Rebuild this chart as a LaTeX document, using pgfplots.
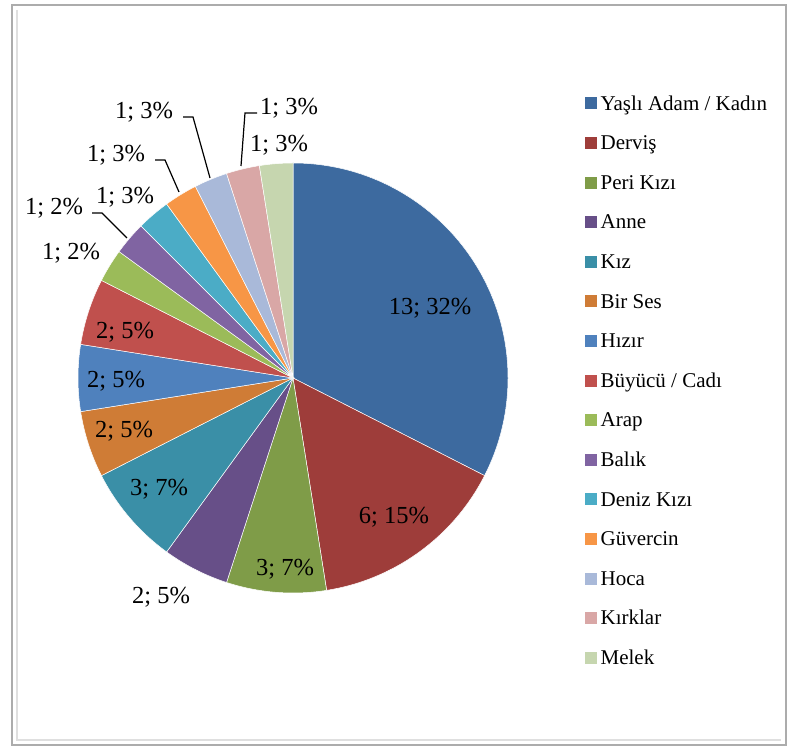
\documentclass[border=0pt]{standalone}
\usepackage{pgfplots}
\pgfplotsset{compat=1.18}
\usepackage{pgfplotstable}
\usepackage{fontspec}
\setmainfont{Liberation Serif}

\definecolor{c1}{HTML}{3D6A9F}
\definecolor{c2}{HTML}{9E3D3A}
\definecolor{c3}{HTML}{7F9C48}
\definecolor{c4}{HTML}{674F88}
\definecolor{c5}{HTML}{3A8FA7}
\definecolor{c6}{HTML}{CF7C36}
\definecolor{c7}{HTML}{4F81BD}
\definecolor{c8}{HTML}{C0504D}
\definecolor{c9}{HTML}{9BBB59}
\definecolor{c10}{HTML}{8064A2}
\definecolor{c11}{HTML}{4BACC6}
\definecolor{c12}{HTML}{F79646}
\definecolor{c13}{HTML}{A9B9D9}
\definecolor{c14}{HTML}{D9A7A6}
\definecolor{c15}{HTML}{C6D6AF}

\newcommand\lbl{\fontsize{24.5}{26}\selectfont}
\newcommand\lgd{\fontsize{21}{22}\selectfont}

% value, shown percent, colour, label position (axis units = pt)
\pgfplotstableread{
value pct color lx ly
13 32 c1 430 441
6 15 c2 394 232
3 7 c3 285 180
2 5 c4 161 152
3 7 c5 159 260
2 5 c6 124 318
2 5 c7 116 368
2 5 c8 125 417
1 2 c9 71 496
1 2 c10 54 541
1 3 c11 125 552
1 3 c12 116 594
1 3 c13 144 637
1 3 c14 289 641
1 3 c15 279 604
}\piedata
\def\total{40}

\pgfplotsset{sq/.style={legend image code/.code={\fill[#1] (0pt,1.5pt) rectangle (11pt,12.5pt);}}}

\begin{document}
\begin{tikzpicture}
\begin{axis}[
  scale only axis, width=787pt, height=749pt,
  xmin=0, xmax=787, ymin=0, ymax=749,
  hide axis, clip=false,
  legend cell align=left,
  legend style={at={(axis cs:585,653)}, anchor=north west, draw=none, fill=none,
    inner sep=0pt, font=\lgd, row sep=20.6pt, column sep=4pt,
    nodes={inner sep=0pt, text height=14pt, text depth=5pt, anchor=base west}},
]
\path (axis cs:0,0) rectangle (axis cs:787,749);
% frame
\draw[gray!65, line width=1.6pt] (axis cs:12,744) rectangle (axis cs:786,4);
\draw[gray!25, line width=2pt] (axis cs:17,739) -- (axis cs:17,9) -- (axis cs:781,9);

\pgfplotsextra{
  \pgfplotstablegetrowsof{\piedata}
  \pgfmathtruncatemacro\nrows{\pgfplotsretval-1}
  \gdef\acc{90}
  \foreach \i in {0,...,\nrows}{
    \pgfplotstablegetelem{\i}{value}\of\piedata \let\v\pgfplotsretval
    \pgfplotstablegetelem{\i}{color}\of\piedata \let\c\pgfplotsretval
    \pgfmathsetmacro\aend{\acc-\v*360/\total}
    \fill[\c, draw=white, line width=0.5pt] (axis cs:293,371) -- (axis cs:{293+215*cos(\acc)},{371+215*sin(\acc)})
      arc[start angle=\acc, end angle=\aend, radius=215pt] -- cycle;
    \xdef\acc{\aend}
  }
  \foreach \i in {0,...,\nrows}{
    \pgfplotstablegetelem{\i}{value}\of\piedata \let\v\pgfplotsretval
    \pgfplotstablegetelem{\i}{pct}\of\piedata \let\p\pgfplotsretval
    \pgfplotstablegetelem{\i}{lx}\of\piedata \let\lx\pgfplotsretval
    \pgfplotstablegetelem{\i}{ly}\of\piedata \let\ly\pgfplotsretval
    \node[font=\lbl, inner sep=0pt] at (axis cs:\lx,\ly) {\v; \p\%};
  }
}
% leader lines
\draw[line width=1.2pt] (axis cs:92,536) -- (axis cs:102,536) -- (axis cs:127,511);
\draw[line width=1.2pt] (axis cs:155,589) -- (axis cs:165,589) -- (axis cs:179,557);
\draw[line width=1.2pt] (axis cs:183,632) -- (axis cs:193,632) -- (axis cs:210,571);
\draw[line width=1.2pt] (axis cs:257,636) -- (axis cs:245,636) -- (axis cs:241,583);

\addlegendimage{sq=c1}\addlegendentry{Yaşlı Adam / Kadın}
\addlegendimage{sq=c2}\addlegendentry{Derviş}
\addlegendimage{sq=c3}\addlegendentry{Peri Kızı}
\addlegendimage{sq=c4}\addlegendentry{Anne}
\addlegendimage{sq=c5}\addlegendentry{Kız}
\addlegendimage{sq=c6}\addlegendentry{Bir Ses}
\addlegendimage{sq=c7}\addlegendentry{Hızır}
\addlegendimage{sq=c8}\addlegendentry{Büyücü / Cadı}
\addlegendimage{sq=c9}\addlegendentry{Arap}
\addlegendimage{sq=c10}\addlegendentry{Balık}
\addlegendimage{sq=c11}\addlegendentry{Deniz Kızı}
\addlegendimage{sq=c12}\addlegendentry{Güvercin}
\addlegendimage{sq=c13}\addlegendentry{Hoca}
\addlegendimage{sq=c14}\addlegendentry{Kırklar}
\addlegendimage{sq=c15}\addlegendentry{Melek}
\end{axis}
\end{tikzpicture}
\end{document}
